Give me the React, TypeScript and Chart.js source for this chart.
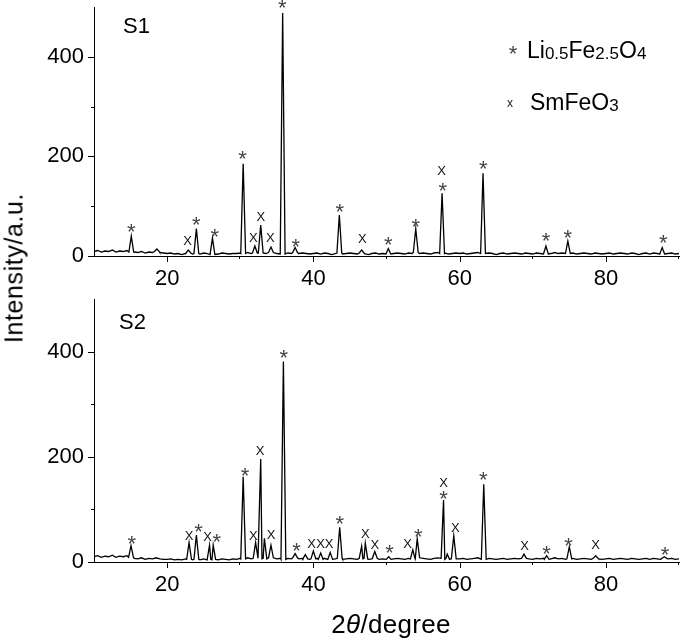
import React, { useEffect, useRef } from 'react';
import { Chart, registerables } from 'chart.js';

Chart.register(...registerables);

// ---------- axes ----------
const X_MIN = 10;
const X_MAX = 90;
const Y_MIN = 0;
const Y_MAX = 500;
const xMajorTicks = [20, 40, 60, 80];
const xMinorTicks = [30, 50, 70, 90];
const yMajorTicks = [0, 200, 400];
const yMinorTicks = [100, 300];

// ---------- baseline (noise) read every 0.5 degree from 10 to 90 ----------
const BASE_START = 10;
const BASE_STEP = 0.5;
const s1Baseline = [
  9, 11, 8, 10, 9, 12, 8, 10, 9, 11,
  8, 8, 7, 9, 6, 8, 7, 9, 7, 6,
  5, 6, 4, 5, 3, 5, 6, 4, 5, 4,
  6, 5, 3, 5, 4, 6, 5, 4, 5, 5,
  6, 5, 7, 5, 6, 4, 6, 5, 7, 6,
  5, 6, 4, 6, 5, 7, 5, 6, 5, 4,
  5, 6, 4, 6, 5, 3, 5, 6, 4, 5,
  6, 5, 4, 6, 5, 3, 5, 6, 4, 5,
  6, 4, 5, 6, 5, 4, 6, 5, 7, 5,
  6, 5, 4, 6, 7, 5, 6, 4, 5, 6,
  5, 6, 4, 5, 6, 7, 5, 4, 6, 5,
  3, 5, 6, 4, 5, 6, 5, 4, 6, 5,
  4, 6, 5, 6, 4, 5, 7, 5, 6, 4,
  5, 6, 4, 5, 6, 5, 4, 6, 5, 4,
  5, 6, 4, 5, 6, 5, 4, 6, 5, 3,
  5, 6, 4, 6, 5, 4, 6, 5, 6, 4,
  5,
];
const s2Baseline = [
  10, 12, 9, 11, 10, 13, 9, 11, 10, 12,
  9, 7, 6, 8, 5, 7, 6, 8, 6, 5,
  5, 6, 4, 5, 4, 6, 5, 4, 5, 4,
  6, 5, 4, 5, 4, 6, 5, 4, 6, 5,
  7, 6, 8, 6, 7, 5, 7, 6, 8, 7,
  6, 7, 5, 7, 6, 8, 6, 7, 6, 5,
  6, 7, 5, 7, 6, 5, 6, 7, 5, 6,
  7, 6, 5, 7, 6, 5, 6, 7, 5, 6,
  7, 5, 6, 7, 6, 5, 7, 6, 8, 6,
  7, 6, 5, 7, 8, 6, 7, 5, 6, 7,
  6, 7, 5, 6, 7, 8, 6, 5, 7, 6,
  5, 6, 7, 5, 6, 7, 6, 5, 7, 6,
  5, 7, 6, 7, 5, 6, 8, 6, 7, 5,
  6, 7, 5, 6, 7, 6, 5, 7, 6, 5,
  6, 7, 5, 6, 7, 6, 5, 7, 6, 5,
  6, 7, 5, 7, 6, 5, 7, 6, 7, 5,
  6,
];

// ---------- peaks (2θ position, intensity) ----------
const s1PeakPos = [15.1, 18.6, 22.9, 24.0, 26.2, 30.4, 32.0, 32.8, 34.2, 35.8, 37.5, 43.55, 46.6, 50.25, 54.0, 57.6, 63.2, 71.8, 74.8, 87.7];
const s1PeakInt = [40, 14, 12, 55, 36, 185, 20, 62, 18, 488, 17, 82, 12, 15, 55, 126, 166, 20, 30, 17];

const s2PeakPos = [15.06, 23.0, 24.0, 25.8, 26.3, 30.4, 32.1, 32.8, 33.3, 34.2, 35.9, 37.5, 38.9, 40.0, 41.0, 42.3, 43.6, 46.6, 47.1, 48.4, 50.3, 53.6, 54.2, 57.8, 58.3, 59.2, 63.3, 68.8, 71.9, 75.0, 78.6, 88.0];
const s2PeakInt = [31, 37, 51, 32, 32, 162, 37, 196, 45, 32, 381, 16, 14, 21, 17, 18, 66, 30, 36, 20, 10, 23, 44, 118, 15, 50, 148, 15, 12, 29, 12, 10];

// ---------- phase markers above peaks ----------
const s1MarkPos = [15.1, 22.8, 24.0, 26.5, 30.3, 31.8, 32.8, 34.1, 35.75, 37.6, 43.6, 46.7, 50.25, 54.0, 57.55, 57.7, 63.25, 71.8, 74.8, 87.85];
const s1MarkVal = [59, 32, 73, 50, 207, 37, 79, 37, 510, 30, 100, 36, 34, 69, 172, 143, 187, 42, 48, 37];
const s1MarkSym = ['*', 'x', '*', '*', '*', 'x', 'x', 'x', '*', '*', '*', 'x', '*', '*', 'x', '*', '*', '*', '*', '*'];

const s2MarkPos = [15.15, 23.0, 24.3, 25.55, 26.8, 30.65, 31.8, 32.7, 34.2, 35.94, 37.7, 39.76, 41.0, 42.14, 43.6, 47.1, 48.4, 50.4, 52.9, 54.35, 57.8, 57.8, 59.4, 63.25, 68.9, 71.9, 74.9, 78.6, 88.1];
const s2MarkVal = [46, 51, 69, 48, 50, 175, 51, 213, 53, 399, 31, 36, 36, 36, 84, 55, 34, 28, 36, 59, 152, 130, 66, 166, 31, 26, 42, 34, 25];
const s2MarkSym = ['*', 'x', '*', 'x', '*', '*', 'x', 'x', 'x', '*', '*', 'x', 'x', 'x', '*', 'x', 'x', '*', 'x', '*', 'x', '*', 'x', '*', 'x', '*', '*', 'x', '*'];

// ---------- text ----------
const panel1Label = 'S1';
const panel2Label = 'S2';
const legendPhase1: [string, boolean][] = [['Li', false], ['0.5', true], ['Fe', false], ['2.5', true], ['O', false], ['4', true]];
const legendPhase2: [string, boolean][] = [['SmFeO', false], ['3', true]];
const xTitleA = '2';
const xTitleTheta = 'θ';
const xTitleB = '/degree';
const yTitle = 'Intensity/a.u.';

const FONT = "'Liberation Sans', Arial, Helvetica, sans-serif";
const PEAK_HALF_WIDTH = 0.33;

function buildTrace(base: number[], peakPos: number[], peakInt: number[]) {
  const pts: { x: number; y: number }[] = [];
  base.forEach((v, i) => {
    const x = BASE_START + i * BASE_STEP;
    if (peakPos.some((p) => Math.abs(p - x) < PEAK_HALF_WIDTH)) return;
    pts.push({ x, y: v });
  });
  peakPos.forEach((p, i) => {
    const bi = Math.max(0, Math.min(base.length - 1, Math.round((p - BASE_START) / BASE_STEP)));
    const b = base[bi];
    pts.push({ x: p - PEAK_HALF_WIDTH, y: b });
    pts.push({ x: p, y: peakInt[i] });
    pts.push({ x: p + PEAK_HALF_WIDTH, y: b });
  });
  pts.sort((a, b) => a.x - b.x);
  return pts;
}

function drawChem(ctx: CanvasRenderingContext2D, parts: [string, boolean][], x: number, baseline: number, mainSize: number, subSize: number) {
  let cx = x;
  ctx.textAlign = 'left';
  ctx.textBaseline = 'alphabetic';
  for (const [t, sub] of parts) {
    ctx.font = `${sub ? subSize : mainSize}px ${FONT}`;
    ctx.fillText(t, cx, baseline + (sub ? 1 : 0));
    cx += ctx.measureText(t).width;
  }
}

function drawMarker(ctx: CanvasRenderingContext2D, sym: string, px: number, py: number) {
  ctx.textAlign = 'center';
  ctx.textBaseline = 'alphabetic';
  if (sym === '*') {
    ctx.fillStyle = '#444';
    ctx.font = `22px ${FONT}`;
    ctx.fillText('*', px, py + 12.8);
  } else {
    ctx.fillStyle = '#111';
    ctx.font = `13px ${FONT}`;
    ctx.fillText('X', px, py + 4.7);
  }
}

type PanelOpts = {
  label: string;
  labelDX: number;
  labelDY: number;
  marks: { pos: number[]; val: number[]; sym: string[] };
  legend: boolean;
};

const decorPlugin = {
  id: 'decor',
  afterDraw(chart: any, _args: any, opts: PanelOpts) {
    const { ctx, chartArea, scales } = chart;
    const xs = scales.x;
    const ys = scales.y;
    ctx.save();
    ctx.strokeStyle = '#000';
    ctx.lineWidth = 1;
    const bottom = chartArea.bottom;
    const left = chartArea.left;
    ctx.beginPath();
    xMajorTicks.forEach((v) => {
      const px = Math.round(xs.getPixelForValue(v)) + 0.5;
      ctx.moveTo(px, bottom);
      ctx.lineTo(px, bottom + 6);
    });
    xMinorTicks.forEach((v) => {
      const px = Math.round(xs.getPixelForValue(v)) - 0.5;
      ctx.moveTo(px, bottom);
      ctx.lineTo(px, bottom + 3);
    });
    yMajorTicks.forEach((v) => {
      const py = Math.round(ys.getPixelForValue(v)) + 0.5;
      ctx.moveTo(left - 6, py);
      ctx.lineTo(left, py);
    });
    yMinorTicks.forEach((v) => {
      const py = Math.round(ys.getPixelForValue(v)) + 0.5;
      ctx.moveTo(left - 3, py);
      ctx.lineTo(left, py);
    });
    ctx.stroke();

    // markers
    const m = opts.marks;
    m.pos.forEach((p, i) => {
      drawMarker(ctx, m.sym[i], xs.getPixelForValue(p), ys.getPixelForValue(m.val[i]));
    });

    // panel label
    ctx.fillStyle = '#000';
    ctx.font = `22px ${FONT}`;
    ctx.textAlign = 'left';
    ctx.textBaseline = 'alphabetic';
    ctx.fillText(opts.label, left + opts.labelDX, chartArea.top + opts.labelDY);

    if (opts.legend) {
      const lx = chartArea.right - 166;
      const ty = chartArea.top;
      drawMarker(ctx, '*', lx, ty + 41);
      ctx.fillStyle = '#000';
      drawChem(ctx, legendPhase1, lx + 14, ty + 51, 23, 17);
      ctx.fillStyle = '#222';
      ctx.font = `12px ${FONT}`;
      ctx.textAlign = 'center';
      ctx.fillText('x', lx - 3, ty + 97 + 3.1);
      ctx.fillStyle = '#000';
      drawChem(ctx, legendPhase2, lx + 17, ty + 103, 23, 17);
    }
    ctx.restore();
  },
};

function makeConfig(data: { x: number; y: number }[], yAxisWidth: number, xAxisHeight: number, padTop: number, decor: PanelOpts): any {
  return {
    type: 'line',
    data: {
      datasets: [
        {
          data,
          borderColor: '#000',
          borderWidth: 1.3,
          pointRadius: 0,
          tension: 0,
          fill: false,
        },
      ],
    },
    options: {
      animation: false,
      responsive: false,
      devicePixelRatio: 1,
      layout: { padding: { left: 0, right: 6, top: padTop, bottom: 0 } },
      plugins: { legend: { display: false }, tooltip: { enabled: false }, decor },
      scales: {
        x: {
          type: 'linear',
          min: X_MIN,
          max: X_MAX,
          afterBuildTicks: (s: any) => {
            s.ticks = xMajorTicks.map((v) => ({ value: v }));
          },
          afterFit: (s: any) => {
            s.height = xAxisHeight;
            s.paddingLeft = 0;
            s.paddingRight = 0;
            s.paddingTop = 0;
            s.paddingBottom = 0;
          },
          grid: { display: false, drawTicks: false },
          border: { display: true, color: '#000', width: 1 },
          ticks: { color: '#000', font: { family: FONT, size: 22 }, padding: 10, maxRotation: 0, autoSkip: false },
        },
        y: {
          type: 'linear',
          min: Y_MIN,
          max: Y_MAX,
          afterBuildTicks: (s: any) => {
            s.ticks = yMajorTicks.map((v) => ({ value: v }));
          },
          afterFit: (s: any) => {
            s.width = yAxisWidth;
            s.paddingLeft = 0;
            s.paddingRight = 0;
            s.paddingTop = 0;
            s.paddingBottom = 0;
          },
          grid: { display: false, drawTicks: false },
          border: { display: true, color: '#000', width: 1 },
          ticks: { color: '#000', font: { family: FONT, size: 22 }, padding: 10, autoSkip: false },
        },
      },
    },
    plugins: [decorPlugin],
  };
}

export default function App() {
  const c1 = useRef<HTMLCanvasElement>(null);
  const c2 = useRef<HTMLCanvasElement>(null);

  useEffect(() => {
    const ch1 = new Chart(
      c1.current as HTMLCanvasElement,
      makeConfig(buildTrace(s1Baseline, s1PeakPos, s1PeakInt), 94, 44, 7, {
        label: panel1Label,
        labelDX: 29,
        labelDY: 26,
        marks: { pos: s1MarkPos, val: s1MarkVal, sym: s1MarkSym },
        legend: true,
      })
    );
    const ch2 = new Chart(
      c2.current as HTMLCanvasElement,
      makeConfig(buildTrace(s2Baseline, s2PeakPos, s2PeakInt), 94, 82, 9, {
        label: panel2Label,
        labelDX: 25,
        labelDY: 30,
        marks: { pos: s2MarkPos, val: s2MarkVal, sym: s2MarkSym },
        legend: false,
      })
    );
    return () => {
      ch1.destroy();
      ch2.destroy();
    };
  }, []);

  return (
    <div style={{ position: 'fixed', left: 0, top: 0, width: 685, height: 644, background: '#fff', overflow: 'hidden' }}>
      <canvas ref={c1} width={685} height={300} style={{ position: 'absolute', left: 0, top: 0, width: 685, height: 300 }} />
      <canvas ref={c2} width={685} height={354} style={{ position: 'absolute', left: 0, top: 290, width: 685, height: 354 }} />
      <div
        style={{
          position: 'absolute',
          left: 13.5,
          top: 268,
          transform: 'translate(-50%, -50%) rotate(-90deg)',
          whiteSpace: 'nowrap',
          fontFamily: FONT,
          fontSize: 25,
          lineHeight: 1,
          letterSpacing: 0.6,
          color: '#000',
        }}
      >
        {yTitle}
      </div>
      <div
        style={{
          position: 'absolute',
          left: 391,
          top: 611,
          transform: 'translateX(-50%)',
          whiteSpace: 'nowrap',
          fontFamily: FONT,
          fontSize: 26,
          lineHeight: 1,
          letterSpacing: 0.3,
          color: '#000',
        }}
      >
        {xTitleA}
        <i>{xTitleTheta}</i>
        {xTitleB}
      </div>
    </div>
  );
}
